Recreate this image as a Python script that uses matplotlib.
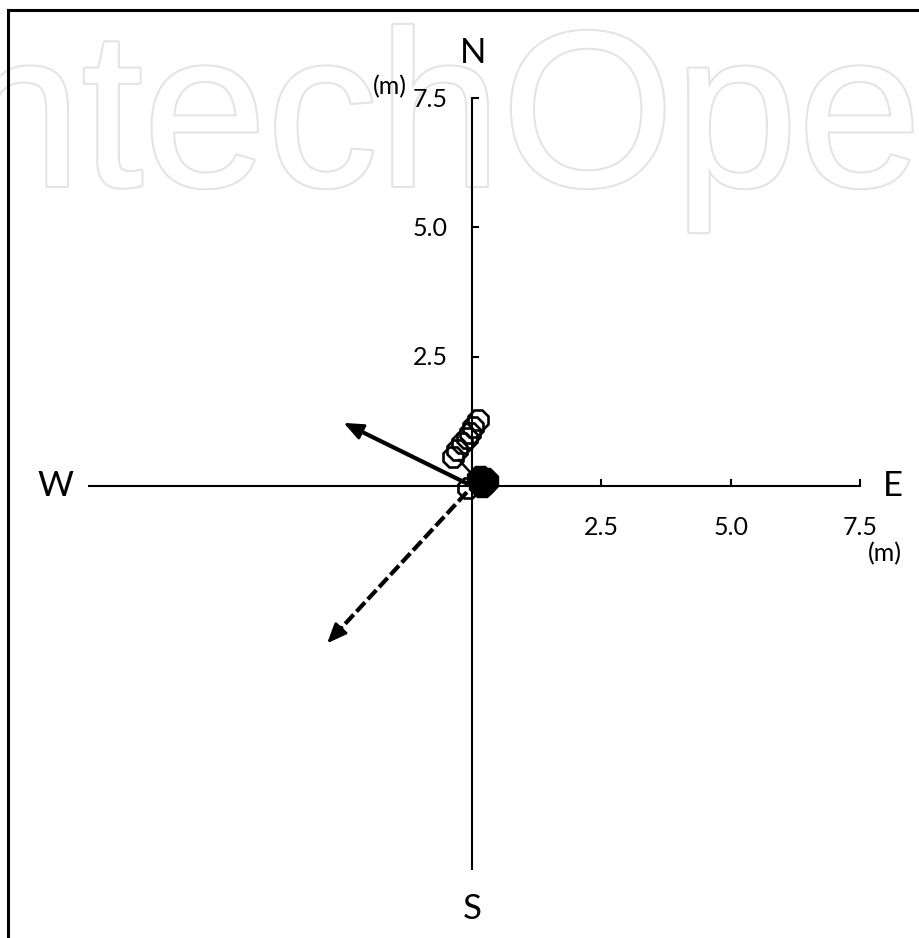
import matplotlib
matplotlib.use("Agg")
import matplotlib.pyplot as plt
import matplotlib.patheffects as pe
from matplotlib.lines import Line2D
from matplotlib.patches import FancyArrowPatch
import numpy as np

# ── DATA (metres, E = +x, N = +y) ────────────────────────────────────────────
TICK_VALUES = [2.5, 5.0, 7.5]
TICK_LABELS = ["2.5", "5.0", "7.5"]

AXIS_POS_END = 7.5      # east / north end of the cross
AXIS_NEG_END = -7.43    # west / south end of the cross

# hollow octagons (sequence drifting north-west)
OPEN_X = [0.12, 0.02, -0.04, -0.10, -0.19, -0.29, -0.37, -0.08]
OPEN_Y = [1.28, 1.14, 1.02, 0.93, 0.83, 0.70, 0.56, -0.04]

# filled octagons clustered at the origin
FILLED_X = [0.16, 0.25, 0.20]
FILLED_Y = [0.14, 0.10, 0.04]

# short track segment between the hollow cluster and the origin
TRACK_X = [-0.25, -0.02]
TRACK_Y = [0.50, 0.25]

SOLID_ARROW = [(0.0, 0.0), (-2.48, 1.22)]
DASHED_ARROW = [(-0.10, -0.12), (-2.80, -3.04)]

# ── STYLE ────────────────────────────────────────────────────────────────────
FONT = "Lato"
W_PX, H_PX = 920, 938
DPI = 100
ORIGIN_PX = (472, 486)
PX_PER_M = 51.73
TICK_SIZE = 18
COMPASS_SIZE = 25
LW_AXIS = 1.5
LW_ARROW = 3.0


def arrow_head(ax, tail, tip, back=0.42):
    d = np.array(tip) - np.array(tail)
    d = d / np.hypot(*d)
    start = np.array(tip) - back * d
    ax.add_patch(FancyArrowPatch(
        start, tip, arrowstyle="-|>,head_length=0.6,head_width=0.25",
        mutation_scale=20, color="black", lw=2.0,
        shrinkA=0, shrinkB=0, zorder=4,
    ))
    return start


def main():
    fig = plt.figure(figsize=(W_PX / DPI, H_PX / DPI), dpi=DPI)
    ax = fig.add_axes([0, 0, 1, 1])
    ax.set_facecolor("none")
    ax.set_zorder(1)
    ax.axis("off")

    ox, oy = ORIGIN_PX
    ax.set_xlim(-ox / PX_PER_M, (W_PX - ox) / PX_PER_M)
    ax.set_ylim(-(H_PX - oy) / PX_PER_M, oy / PX_PER_M)

    # watermark behind everything
    fig.text(-0.113, 1 - 186 / H_PX, "IntechOpen", fontsize=160,
             family="Liberation Sans", color="white", va="baseline",
             zorder=0,
             path_effects=[pe.withStroke(linewidth=3, foreground="#e4e4e4")])

    # frame (left + top only)
    fx, fy = 8 / W_PX, 1 - 10 / H_PX
    fig.add_artist(Line2D([fx, fx], [0, fy], transform=fig.transFigure,
                          color="black", lw=2.2, zorder=2))
    fig.add_artist(Line2D([fx, 1], [fy, fy], transform=fig.transFigure,
                          color="black", lw=2.2, zorder=2))

    # compass cross
    ax.plot([AXIS_NEG_END, AXIS_POS_END], [0, 0], color="black", lw=LW_AXIS,
            solid_capstyle="butt", zorder=2)
    ax.plot([0, 0], [AXIS_NEG_END, AXIS_POS_END], color="black", lw=LW_AXIS,
            solid_capstyle="butt", zorder=2)

    tick_len = 0.11
    for v, lab in zip(TICK_VALUES, TICK_LABELS):
        ax.plot([v, v], [0, tick_len], color="black", lw=LW_AXIS, zorder=2)
        ax.plot([0, tick_len], [v, v], color="black", lw=LW_AXIS, zorder=2)
        ax.text(v, -0.80, lab, fontsize=TICK_SIZE, family=FONT,
                ha="center", va="center")
        ax.text(-0.47, v - 0.02, lab, fontsize=TICK_SIZE, family=FONT,
                ha="right", va="center")

    ax.text(7.98, -1.30, "(m)", fontsize=TICK_SIZE, family=FONT,
            ha="center", va="center")
    ax.text(-1.58, 7.72, "(m)", fontsize=TICK_SIZE, family=FONT,
            ha="center", va="center")

    ax.text(0.02, 8.38, "N", fontsize=COMPASS_SIZE, family=FONT,
            ha="center", va="center")
    ax.text(0.0, -8.17, "S", fontsize=COMPASS_SIZE, family=FONT,
            ha="center", va="center")
    ax.text(-8.06, 0.0, "W", fontsize=COMPASS_SIZE, family=FONT,
            ha="center", va="center")
    ax.text(8.14, 0.0, "E", fontsize=COMPASS_SIZE, family=FONT,
            ha="center", va="center")

    # arrows
    tail, tip = SOLID_ARROW
    start = arrow_head(ax, tail, tip)
    ax.plot([tail[0], start[0]], [tail[1], start[1]], color="black",
            lw=LW_ARROW, solid_capstyle="butt", zorder=3)

    tail, tip = DASHED_ARROW
    start = arrow_head(ax, tail, tip)
    ax.plot([tail[0], start[0]], [tail[1], start[1]], color="black",
            lw=LW_ARROW, linestyle=(0, (3.0, 1.0)), dash_capstyle="butt",
            zorder=3)

    # positions
    ax.plot(TRACK_X, TRACK_Y, color="black", lw=1.8, zorder=3)
    ax.plot(OPEN_X, OPEN_Y, linestyle="none", marker="8", markersize=15,
            markerfacecolor="none", markeredgecolor="black",
            markeredgewidth=1.9, zorder=5)
    ax.plot(FILLED_X, FILLED_Y, linestyle="none", marker="8", markersize=20,
            color="black", zorder=6)

    fig.savefig("out.png", dpi=DPI)
    plt.close(fig)


if __name__ == "__main__":
    main()
